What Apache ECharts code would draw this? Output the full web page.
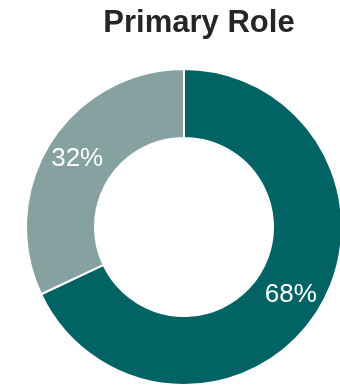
<!DOCTYPE html>
<html>
<head>
<meta charset="utf-8">
<script src="https://cdn.jsdelivr.net/npm/echarts@6/dist/echarts.min.js"></script>
<style>
  html, body { margin: 0; padding: 0; background: #fff; }
  #chart { width: 340px; height: 388px; }
</style>
</head>
<body>
<div id="chart"></div>
<script>
// Share of respondents by primary role
const roles = ['Role A', 'Role B'];
const shares = [68, 32];
const colors = ['#016363', '#86a2a0'];

const chart = echarts.init(document.getElementById('chart'), null, { renderer: 'canvas' });
chart.setOption({
  animation: false,
  title: {
    text: 'Primary Role',
    left: 194,
    textAlign: 'center',
    top: 3,
    textStyle: {
      fontFamily: 'Liberation Sans, Arial, sans-serif',
      fontSize: 31,
      fontWeight: 'bold',
      color: '#262626'
    }
  },
  series: [{
    type: 'pie',
    center: [184, 227],
    radius: [89, 158],
    startAngle: 90,
    clockwise: true,
    avoidLabelOverlap: false,
    itemStyle: { borderColor: '#ffffff', borderWidth: 2 },
    label: {
      show: true,
      position: 'inside',
      formatter: '{c}%',
      color: '#ffffff',
      fontFamily: 'Liberation Sans, Arial, sans-serif',
      fontSize: 26
    },
    labelLine: { show: false },
    data: roles.map((r, i) => ({ name: r, value: shares[i], itemStyle: { color: colors[i] } }))
  }]
});
</script>
</body>
</html>
